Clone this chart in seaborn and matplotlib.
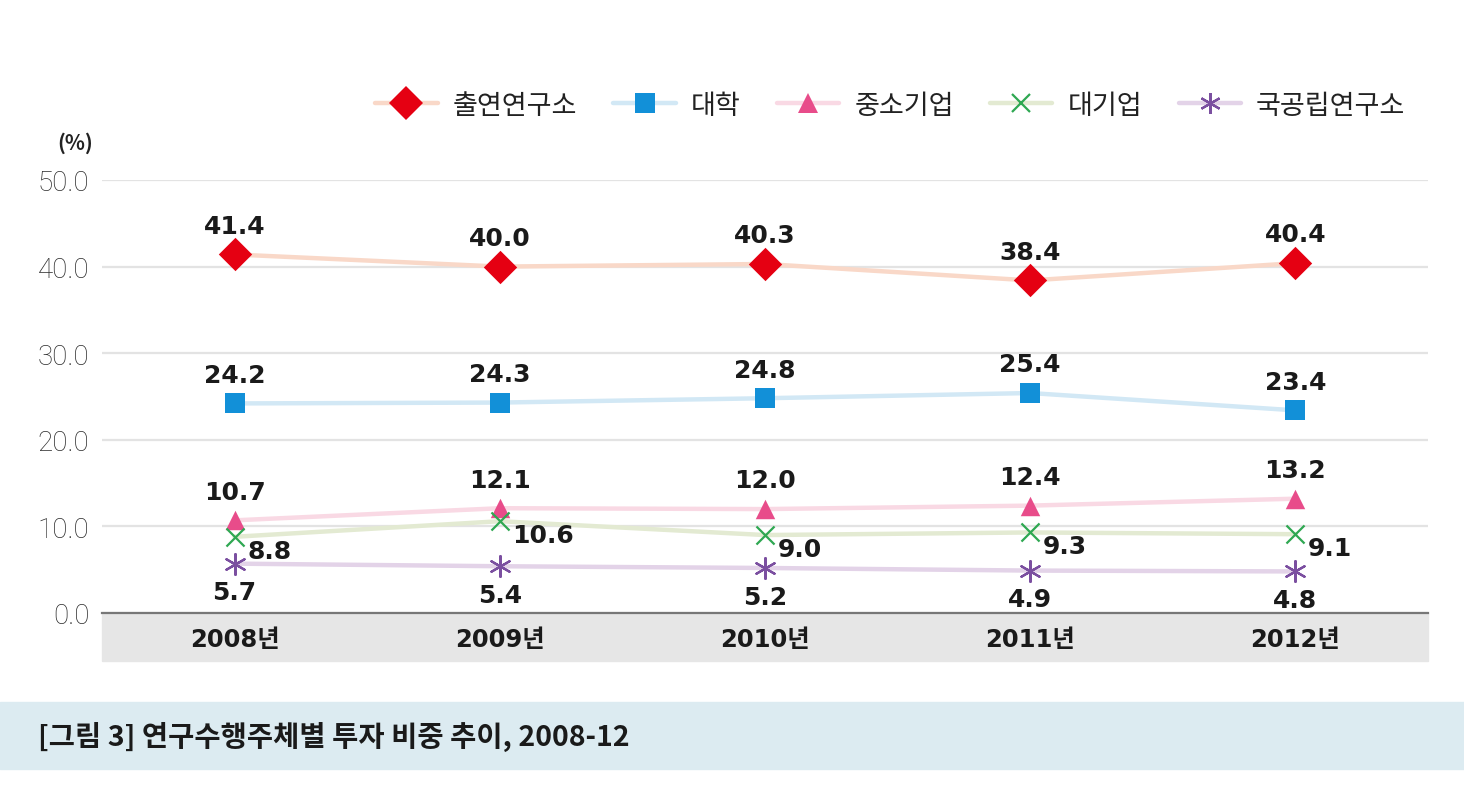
import pandas as pd
import matplotlib.pyplot as plt
import seaborn as sns
from matplotlib.lines import Line2D
from matplotlib.patches import Rectangle

### DATA ###
years = ['2008년', '2009년', '2010년', '2011년', '2012년']
series_names = ['출연연구소', '대학', '중소기업', '대기업', '국공립연구소']
gri = [41.4, 40.0, 40.3, 38.4, 40.4]
univ = [24.2, 24.3, 24.8, 25.4, 23.4]
sme = [10.7, 12.1, 12.0, 12.4, 13.2]
large = [8.8, 10.6, 9.0, 9.3, 9.1]
national = [5.7, 5.4, 5.2, 4.9, 4.8]
y_ticks = [0, 10, 20, 30, 40, 50]

values = [gri, univ, sme, large, national]
df = pd.DataFrame([(y, s, v[i]) for s, v in zip(series_names, values)
                   for i, y in enumerate(years)],
                  columns=['year', 'series', 'value'])

### STYLE ###
sns.set_theme(style='white')
plt.rcParams['font.family'] = ['Noto Sans CJK KR', 'DejaVu Sans']

# marker colour, light line colour, marker, marker size, edge width, label position
styles = {
    '출연연구소': ('#e50012', '#f9d8c8', 'D', 17, 0, 'above'),
    '대학': ('#1290d8', '#d2e8f5', 's', 14, 0, 'above'),
    '중소기업': ('#e84c8a', '#f9d9e4', '^', 14, 0, 'above'),
    '대기업': ('#2fa852', '#e3ead2', 'x', 13, 1.6, 'right'),
    '국공립연구소': ('#7b4fa0', '#e3d3e8', (6, 2, 0), 15, 1.6, 'below'),
}

fig = plt.figure(figsize=(14.64, 8.03), dpi=100)
ax = fig.add_axes([102 / 1464, 1 - 614 / 803, 1326 / 1464, 433 / 803])

# grey band under the axis and caption bar (behind everything)
fig.patches.append(Rectangle((102 / 1464, 1 - 662 / 803), 1326 / 1464, 48 / 803,
                             transform=fig.transFigure, color='#e6e6e6', zorder=-5))
fig.patches.append(Rectangle((0, 1 - 770 / 803), 1, 67 / 803,
                             transform=fig.transFigure, color='#dcebf1', zorder=-5))

handles = []
for name in series_names:
    mc, lc, mk, ms, mew, pos = styles[name]
    sub = df[df['series'] == name]
    sns.lineplot(data=sub, x='year', y='value', color=lc, linewidth=3.2,
                 sort=False, ax=ax, zorder=2)
    sns.scatterplot(data=sub, x='year', y='value', color=mc, marker=mk,
                    s=ms ** 2, linewidth=mew, ax=ax, zorder=4, clip_on=False)
    handles.append(Line2D([], [], color=lc, linewidth=3.2, marker=mk, markersize=ms,
                          markerfacecolor=mc, markeredgecolor=mc,
                          markeredgewidth=mew, label=name))

    # value labels
    for i, v in enumerate(sub['value']):
        if pos == 'above':
            off, ha, va = (0, 12), 'center', 'bottom'
        elif pos == 'below':
            off, ha, va = (0, -12), 'center', 'top'
        else:
            off, ha, va = (9, -10), 'left', 'center'
        ax.annotate(f'{v:.1f}', (i, v), xytext=off, textcoords='offset points',
                    ha=ha, va=va, fontsize=18, fontweight='bold', color='#1a1a1a',
                    family='DejaVu Sans', zorder=5)

### AXES ###
ax.set_xlim(-0.5, 4.5)
ax.set_ylim(0, 50)
ax.set_yticks(y_ticks)
ax.set_yticklabels([f'{t:.1f}' for t in y_ticks], family='Roboto', fontweight='light',
                   fontsize=20, color='#2a2a2a')
ax.set_xlabel('')
ax.set_ylabel('')
ax.set_xticks(range(len(years)))
ax.set_xticklabels(years, fontsize=17.5, fontweight='bold', color='#1a1a1a',
                   family=['DejaVu Sans', 'Noto Sans CJK KR'])
ax.set_xticks([0.5, 1.5, 2.5, 3.5], minor=True)
ax.tick_params(axis='x', which='major', length=0, pad=10)
ax.tick_params(axis='x', which='minor', direction='in', length=9, width=1.2,
               color='#777777')
ax.tick_params(axis='y', length=0, pad=9)
ax.grid(axis='y', color='#e3e3e3', linewidth=1.6)
ax.grid(axis='x', visible=False)
for side in ['top', 'right', 'left']:
    ax.spines[side].set_visible(False)
ax.spines['bottom'].set_color('#777777')
ax.spines['bottom'].set_linewidth(1.6)
ax.spines['bottom'].set_zorder(3)
ax.patch.set_alpha(0)

fig.text(75 / 1464, 1 - 143 / 803, '(%)', ha='center', va='center', fontsize=15,
         fontweight='bold', color='#222222')

fig.legend(handles=handles, loc='center right', bbox_to_anchor=(1405 / 1464, 1 - 106 / 803),
           ncol=5, frameon=False, prop={'size': 19.5},
           handlelength=2.3, handletextpad=0.55, columnspacing=1.35, borderpad=0,
           borderaxespad=0, labelcolor='#222222')

fig.text(38 / 1464, 1 - 737 / 803, '[그림 3] 연구수행주체별 투자 비중 추이, 2008-12',
         ha='left', va='center', fontsize=20.5, fontweight='bold', color='#1a1a1a')

plt.savefig('out.png', dpi=100)
